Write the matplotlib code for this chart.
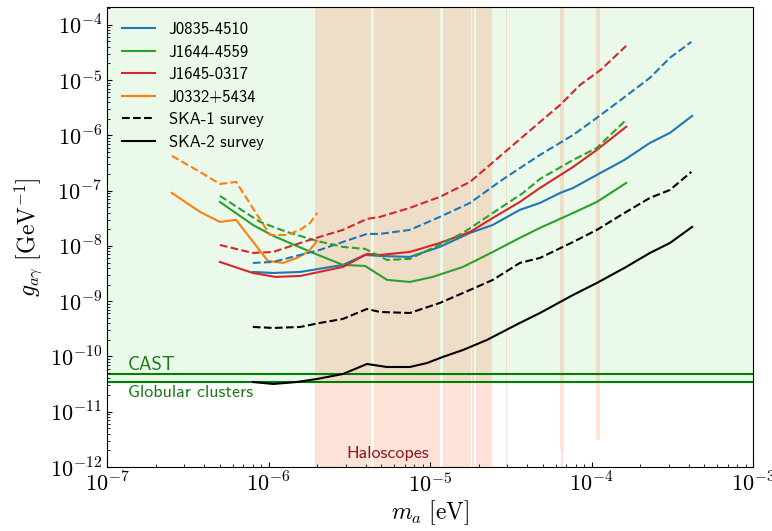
import matplotlib
matplotlib.use('Agg')
import matplotlib.pyplot as plt
from matplotlib.ticker import FuncFormatter, LogLocator, NullFormatter
import numpy as np

plt.rcParams['mathtext.fontset'] = 'cm'
plt.rcParams['font.family'] = ['cmss10', 'DejaVu Sans']
plt.rcParams['axes.unicode_minus'] = False

# --- pulsar limits (m_a in eV, g in GeV^-1) ---
m_J0835 = [8.0e-7, 1.07e-6, 1.57e-6, 2.89e-6, 3.96e-6, 4.9e-6, 7.5e-6, 1.15e-5, 1.77e-5,
           2.45e-5, 3.6e-5, 4.8e-5, 6.4e-5, 7.7e-5, 1.08e-4, 1.6e-4, 2.3e-4, 3.06e-4, 4.2e-4]
g_J0835 = [3.38e-9, 3.24e-9, 3.38e-9, 4.53e-9, 6.87e-9, 6.59e-9, 6.32e-9, 9.6e-9, 1.72e-8,
           2.4e-8, 4.49e-8, 6.0e-8, 9.1e-8, 1.12e-7, 1.93e-7, 3.6e-7, 7.31e-7, 1.11e-6, 2.25e-6]
m_J0835_ska1 = [8.0e-7, 1.07e-6, 1.57e-6, 2.08e-6, 2.89e-6, 4.07e-6, 4.9e-6, 7.5e-6, 1.15e-5,
                1.77e-5, 2.8e-5, 4.8e-5, 7.7e-5, 1.1e-4, 1.58e-4, 2.3e-4, 3.06e-4, 4.15e-4]
g_J0835_ska1 = [4.92e-9, 5.13e-9, 6.87e-9, 8.47e-9, 1.18e-8, 1.65e-8, 1.65e-8, 1.95e-8, 3.35e-8,
                6.0e-8, 1.57e-7, 4.44e-7, 1.02e-6, 2.16e-6, 4.78e-6, 1.1e-5, 2.53e-5, 4.92e-5]

m_J1644 = [5.0e-7, 8.0e-7, 1.07e-6, 1.89e-6, 2.89e-6, 3.96e-6, 5.42e-6, 7.5e-6, 1.04e-5,
           1.6e-5, 2.45e-5, 3.6e-5, 4.8e-5, 7.7e-5, 1.08e-4, 1.64e-4]
g_J1644 = [6.25e-8, 2.4e-8, 1.52e-8, 7.46e-9, 4.53e-9, 4.35e-9, 2.43e-9, 2.23e-9, 2.75e-9,
           4.17e-9, 7.78e-9, 1.4e-8, 2.12e-8, 3.95e-8, 6.25e-8, 1.38e-7]
m_J1644_ska1 = [5.0e-7, 8.85e-7, 1.3e-6, 2.0e-6, 2.89e-6, 3.96e-6, 5.42e-6, 7.5e-6, 1.04e-5,
                1.6e-5, 2.45e-5, 3.77e-5, 4.8e-5, 7.7e-5, 1.08e-4, 1.64e-4]
g_J1644_ska1 = [8.04e-8, 2.72e-8, 1.79e-8, 1.23e-8, 9.6e-9, 8.83e-9, 5.58e-9, 5.83e-9, 9.2e-9,
                1.72e-8, 3.95e-8, 9.1e-8, 1.63e-7, 3.6e-7, 5.94e-7, 1.91e-6]

m_J1645 = [5.0e-7, 8.0e-7, 1.1e-6, 1.57e-6, 2.89e-6, 4.07e-6, 4.9e-6, 7.5e-6, 1.15e-5,
           1.77e-5, 2.45e-5, 3.6e-5, 4.8e-5, 7.7e-5, 1.08e-4, 1.64e-4]
g_J1645 = [5.13e-9, 3.24e-9, 2.75e-9, 2.86e-9, 4.17e-9, 7.16e-9, 6.87e-9, 7.78e-9, 1.13e-8,
           1.79e-8, 3.21e-8, 6.25e-8, 1.12e-7, 2.69e-7, 5.47e-7, 1.43e-6]
m_J1645_ska1 = [5.0e-7, 8.0e-7, 1.07e-6, 1.57e-6, 2.08e-6, 2.89e-6, 4.07e-6, 4.9e-6, 7.5e-6,
                1.15e-5, 1.77e-5, 4.8e-5, 6.4e-5, 8.5e-5, 1.14e-4, 1.64e-4]
g_J1645_ska1 = [1.04e-8, 7.46e-9, 7.78e-9, 1.13e-8, 1.46e-8, 1.95e-8, 3.08e-8, 3.35e-8, 4.88e-8,
                7.71e-8, 1.44e-7, 1.75e-6, 3.56e-6, 8.2e-6, 1.53e-5, 4.17e-5]

m_J0332 = [2.52e-7, 3.77e-7, 5.0e-7, 6.3e-7, 9.9e-7, 1.23e-6, 1.5e-6, 1.76e-6, 2.0e-6]
g_J0332 = [9.1e-8, 4.12e-8, 2.72e-8, 2.96e-8, 5.36e-9, 4.92e-9, 6.07e-9, 7.78e-9, 1.23e-8]
m_J0332_ska1 = [2.52e-7, 3.77e-7, 5.0e-7, 6.3e-7, 1.02e-6, 1.3e-6, 1.57e-6, 1.81e-6, 2.0e-6]
g_J0332_ska1 = [4.26e-7, 2.18e-7, 1.32e-7, 1.44e-7, 1.58e-8, 1.58e-8, 1.95e-8, 2.61e-8, 3.95e-8]

# --- SKA survey projections ---
m_ska1 = [8.0e-7, 1.07e-6, 1.57e-6, 2.08e-6, 2.89e-6, 4.07e-6, 4.9e-6, 7.5e-6, 1.15e-5, 1.77e-5,
          2.45e-5, 3.6e-5, 4.8e-5, 7.7e-5, 1.08e-4, 1.6e-4, 2.3e-4, 3.06e-4, 4.15e-4]
g_ska1 = [3.42e-10, 3.28e-10, 3.42e-10, 4.04e-10, 4.78e-10, 7.24e-10, 6.38e-10, 6.12e-10, 9.29e-10,
          1.6e-9, 2.43e-9, 4.92e-9, 6.07e-9, 1.18e-8, 1.95e-8, 3.95e-8, 7.39e-8, 1.03e-7, 2.18e-7]
m_ska2 = [8.0e-7, 1.07e-6, 1.5e-6, 2.0e-6, 2.89e-6, 4.07e-6, 5.4e-6, 7.5e-6, 9.6e-6, 1.2e-5,
          1.6e-5, 2.25e-5, 3.6e-5, 4.8e-5, 7.7e-5, 1.08e-4, 1.6e-4, 2.3e-4, 3.06e-4, 4.2e-4]
g_ska2 = [3.45e-11, 3.18e-11, 3.45e-11, 3.92e-11, 4.82e-11, 7.31e-11, 6.45e-11, 6.45e-11, 7.62e-11,
          9.8e-11, 1.31e-10, 1.99e-10, 4.04e-10, 6.12e-10, 1.3e-9, 2.14e-9, 4.0e-9, 7.46e-9,
          1.13e-8, 2.21e-8]

# --- existing bounds ---
g_cast = 4.8e-11
g_globular = 3.45e-11
# haloscope exclusions: (m_lo, m_hi, lowest g reached inside the plot)
halo_bands = [(1.94e-6, 4.30e-6, 1e-12), (4.50e-6, 1.153e-5, 1e-12), (1.20e-5, 1.786e-5, 1e-12),
              (1.83e-5, 1.87e-5, 1e-12), (1.94e-5, 2.43e-5, 1e-12), (2.97e-5, 3.01e-5, 1e-12),
              (6.38e-5, 6.76e-5, 2.0e-12), (1.067e-4, 1.13e-4, 3.1e-12)]
halo_tail = (6.50e-5, 6.62e-5, 1.0e-12, 2.0e-12)

xlim = (1e-7, 1e-3)
ylim = (1e-12, 2.1e-4)

fig, ax = plt.subplots(figsize=(7.72, 5.31), dpi=100)
fig.subplots_adjust(left=0.1386, right=0.9754, top=0.9868, bottom=0.1205)

# shaded regions
ax.axhspan(g_globular, ylim[1], color='limegreen', alpha=0.1, lw=0, zorder=0)
for lo, hi, gmin in halo_bands:
    ax.fill_between([lo, hi], gmin, ylim[1], color='coral', alpha=0.22, lw=0, zorder=0)
ax.fill_between(halo_tail[:2], halo_tail[2], halo_tail[3], color='coral', alpha=0.22, lw=0, zorder=0)

ax.axhline(g_cast, color='green', lw=1.5, zorder=1)
ax.axhline(g_globular, color='green', lw=1.5, zorder=1)

c_blue, c_green, c_red, c_orange = '#1f77b4', '#2ca02c', '#d62728', '#ff7f0e'
ax.plot(m_J0835, g_J0835, color=c_blue, lw=1.5, label='J0835-4510')
ax.plot(m_J1644, g_J1644, color=c_green, lw=1.5, label='J1644-4559')
ax.plot(m_J1645, g_J1645, color=c_red, lw=1.5, label='J1645-0317')
ax.plot(m_J0332, g_J0332, color=c_orange, lw=1.5, label='J0332+5434')
ax.plot(m_J0835_ska1, g_J0835_ska1, color=c_blue, lw=1.5, ls='--')
ax.plot(m_J1644_ska1, g_J1644_ska1, color=c_green, lw=1.5, ls='--')
ax.plot(m_J1645_ska1, g_J1645_ska1, color=c_red, lw=1.5, ls='--')
ax.plot(m_J0332_ska1, g_J0332_ska1, color=c_orange, lw=1.5, ls='--')
ax.plot(m_ska1, g_ska1, color='black', lw=1.5, ls='--', label='SKA-1 survey')
ax.plot(m_ska2, g_ska2, color='black', lw=1.5, label='SKA-2 survey')

ax.text(1.34e-7, 5.7e-11, 'CAST', color='#1a7a1a', fontsize=13.5, va='baseline')
ax.text(1.34e-7, 1.85e-11, 'Globular clusters', color='#1a7a1a', fontsize=13, va='baseline')
ax.text(3.05e-6, 1.46e-12, 'Haloscopes', color='#8b1a1a', fontsize=13, va='baseline')

ax.set_xscale('log')
ax.set_yscale('log')
ax.set_xlim(*xlim)
ax.set_ylim(*ylim)

fmt = FuncFormatter(lambda v, _: r'$10^{%d}$' % round(np.log10(v)))
ax.xaxis.set_major_locator(LogLocator(base=10, numticks=20))
ax.yaxis.set_major_locator(LogLocator(base=10, numticks=20))
ax.xaxis.set_major_formatter(fmt)
ax.yaxis.set_major_formatter(fmt)
ax.xaxis.set_minor_locator(LogLocator(base=10, subs=np.arange(2, 10), numticks=20))
ax.yaxis.set_minor_locator(LogLocator(base=10, subs=np.arange(2, 10), numticks=20))
ax.xaxis.set_minor_formatter(NullFormatter())
ax.yaxis.set_minor_formatter(NullFormatter())
ax.tick_params(which='both', direction='in', labelsize=16)

ax.set_xlabel(r'$m_a\ [\mathrm{eV}]$', fontsize=17, labelpad=2)
ax.set_ylabel(r'$g_{a\gamma}\ [\mathrm{GeV}^{-1}]$', fontsize=17)

ax.legend(loc='upper left', frameon=False, fontsize=12, labelspacing=0.45)

fig.savefig('out.png', dpi=100)
